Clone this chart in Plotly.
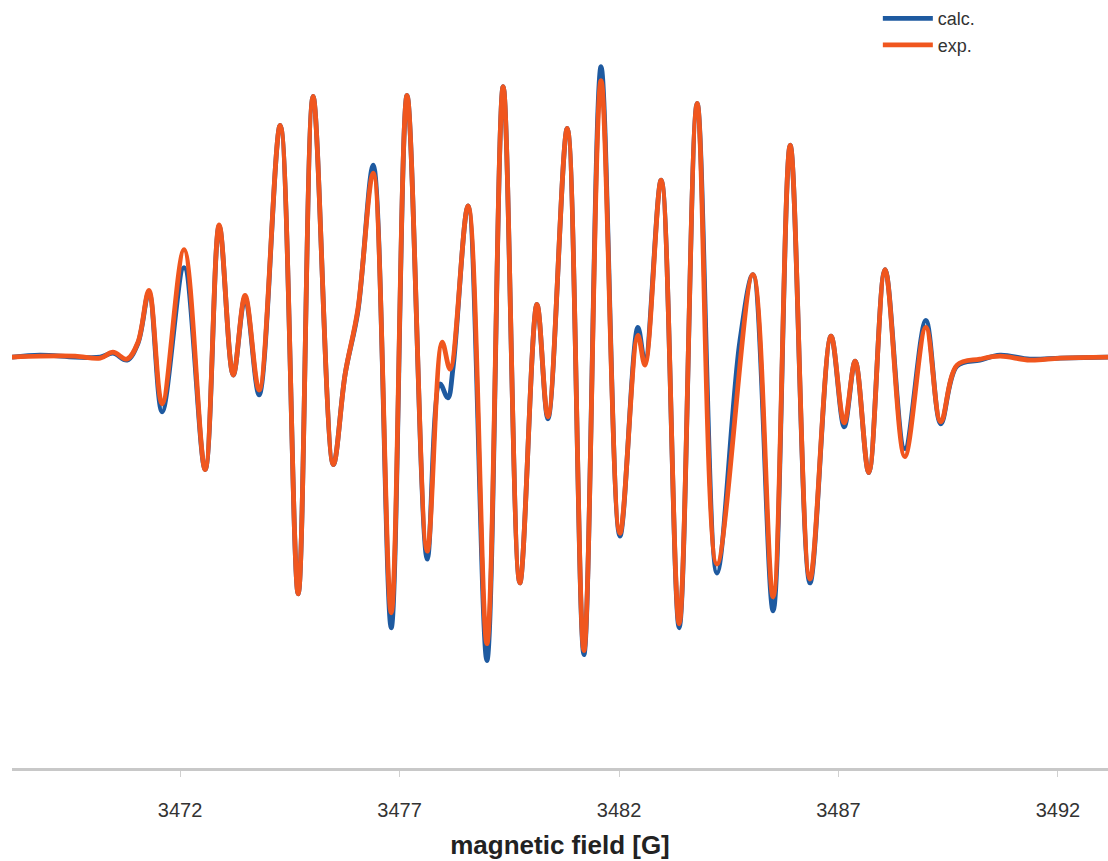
import plotly.graph_objects as go

# EPR spectrum: magnetic field [G] vs. first-derivative intensity (arb. units)
field_exp = [
    3468.17, 3468.81, 3469.61, 3470.18, 3470.47, 3470.79, 3471.04, 3471.29,
    3471.59, 3472.09, 3472.57, 3472.89, 3473.21, 3473.48, 3473.80, 3474.28,
    3474.69, 3475.03, 3475.49, 3475.76, 3476.05, 3476.40, 3476.81, 3477.17,
    3477.63, 3477.97, 3478.15, 3478.56, 3478.99, 3479.36, 3479.74, 3480.13,
    3480.38, 3480.82, 3481.20, 3481.59, 3482.02, 3482.43, 3482.59, 3482.96,
    3483.37, 3483.78, 3484.23, 3485.05, 3485.51, 3485.90, 3486.35, 3486.83,
    3487.13, 3487.38, 3487.69, 3488.06, 3488.51, 3488.99, 3489.33, 3489.70,
    3490.22, 3490.68, 3491.36, 3492.05, 3493.14,
]
intensity_exp = [
    0.00, 0.01, 0.01, -0.01, 0.05, -0.02, 0.15, 0.67,
    -0.47, 1.08, -1.13, 1.33, -0.18, 0.62, -0.33, 2.33,
    -2.38, 2.62, -1.08, -0.17, 0.48, 1.85, -2.57, 2.63,
    -1.95, 0.15, -0.12, 1.52, -2.88, 2.72, -2.27, 0.53,
    -0.60, 2.30, -2.95, 2.78, -1.77, 0.22, -0.08, 1.78,
    -2.68, 2.55, -2.08, 0.83, -2.41, 2.13, -2.23, 0.21,
    -0.66, -0.04, -1.16, 0.88, -1.00, 0.30, -0.65, -0.08,
    -0.02, 0.01, -0.03, -0.01, 0.00,
]

field_calc = [
    3468.17, 3468.81, 3469.61, 3470.18, 3470.47, 3470.79, 3471.04, 3471.29,
    3471.59, 3472.09, 3472.57, 3472.89, 3473.21, 3473.48, 3473.80, 3474.28,
    3474.69, 3475.03, 3475.49, 3475.76, 3476.05, 3476.40, 3476.81, 3477.17,
    3477.63, 3477.92, 3478.10, 3478.22, 3478.56, 3478.99, 3479.36, 3479.74,
    3480.13, 3480.38, 3480.82, 3481.20, 3481.59, 3482.02, 3482.43, 3482.59,
    3482.96, 3483.37, 3483.78, 3484.23, 3484.75, 3485.05, 3485.51, 3485.90,
    3486.35, 3486.83, 3487.13, 3487.38, 3487.69, 3488.06, 3488.51, 3488.99,
    3489.33, 3489.70, 3490.22, 3490.68, 3491.36, 3492.05, 3493.14,
]
intensity_calc = [
    0.00, 0.02, 0.00, 0.00, 0.04, -0.03, 0.14, 0.65,
    -0.55, 0.90, -1.13, 1.32, -0.18, 0.60, -0.38, 2.33,
    -2.38, 2.62, -1.08, -0.17, 0.46, 1.93, -2.72, 2.63,
    -2.03, -0.27, -0.41, -0.10, 1.52, -3.05, 2.72, -2.27,
    0.53, -0.62, 2.30, -2.99, 2.92, -1.80, 0.30, -0.05,
    1.78, -2.72, 2.55, -2.17, 0.15, 0.83, -2.55, 2.13,
    -2.27, 0.21, -0.70, -0.04, -1.16, 0.88, -0.92, 0.37,
    -0.67, -0.09, -0.03, 0.02, -0.02, -0.01, 0.00,
]

tick_values = [3472, 3477, 3482, 3487, 3492]
series_names = ["calc.", "exp."]
series_colors = ["#1E5AA0", "#F0561E"]

fig = go.Figure()
fig.add_trace(go.Scatter(
    x=field_calc, y=intensity_calc, name=series_names[0], mode="lines",
    line=dict(color=series_colors[0], width=4.8, shape="spline", smoothing=1.0),
))
fig.add_trace(go.Scatter(
    x=field_exp, y=intensity_exp, name=series_names[1], mode="lines",
    line=dict(color=series_colors[1], width=4.8, shape="spline", smoothing=1.0),
))

fig.update_layout(
    width=1108, height=861,
    margin=dict(l=12, r=0, t=0, b=93),
    paper_bgcolor="white", plot_bgcolor="white",
    font=dict(family="Liberation Sans, Arial, sans-serif", color="#333333"),
    showlegend=True,
    legend=dict(
        x=0.79, y=1.005, xanchor="left", yanchor="top",
        bgcolor="rgba(0,0,0,0)", font=dict(size=18, color="#333333"),
        tracegroupgap=0, itemwidth=50,
    ),
    xaxis=dict(
        range=[3468.17, 3493.14], tickvals=tick_values,
        ticktext=[str(v) for v in tick_values],
        showline=True, linecolor="#c8c8c8", linewidth=3,
        ticks="outside", ticklen=6, tickcolor="#d0d0d0", tickwidth=1,
        ticklabelstandoff=16,
        showgrid=False, zeroline=False,
        tickfont=dict(size=20, color="#333333"),
        title=dict(text="<b>magnetic field [G]</b>", font=dict(size=26, color="#222222"), standoff=16),
    ),
    yaxis=dict(visible=False, range=[-4.13, 3.55], fixedrange=True),
)

fig.write_html("out.html")
